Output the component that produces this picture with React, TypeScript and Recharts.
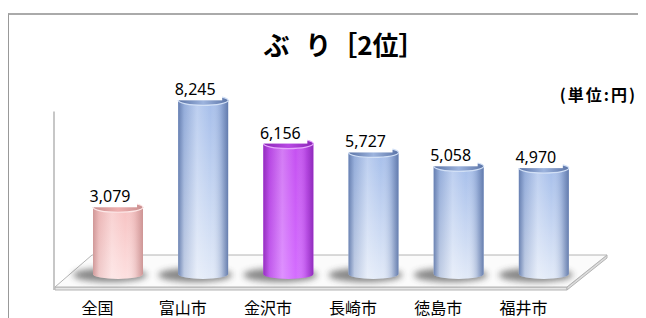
import { BarChart, Bar, XAxis, YAxis, ReferenceArea, LabelList } from 'recharts'

const categories = ['全国', '富山市', '金沢市', '長崎市', '徳島市', '福井市']
const prices = [3079, 8245, 6156, 5727, 5058, 4970]
const title = 'ぶ り［2位］'
const unitLabel = '(単位:円)'
const nationalName = '全国'
const highlightCity = '金沢市'

const data = categories.map((name, i) => ({ name, value: prices[i] }))

// wall of the 3d box reaches a bit below the tallest bar
const wallTop = 7700

const palette: Record<string, any> = {
	blue: { top: '#a4bdea', bottom: '#e2eaf8', edge: '#5a73a6', rim: '#d2e0f6', face: '#9db4de' },
	pink: { top: '#f6c0c0', bottom: '#fde0e0', edge: '#c98f8f', rim: '#fde8e8', face: '#eeb0b0' },
	purple: { top: '#c44ff0', bottom: '#d46dff', edge: '#8a26b6', rim: '#e8a8ff', face: '#b848e4' },
}

function colorOf(name: string) {
	if (name === nationalName) return 'pink'
	if (name === highlightCity) return 'purple'
	return 'blue'
}

function Cylinder(props: any) {
	const { x, y, width, height, payload, index } = props
	if (width == null || height == null) return null
	const c = palette[colorOf(payload.name)]
	const cx = x + width / 2
	const rx = width / 2
	const ry = 5
	const top = y
	const bottom = y + height + 3
	const id = `cyl-${index}`
	const body = `M${x},${top} L${x},${bottom} A${rx},${ry} 0 0 0 ${x + width},${bottom} L${x + width},${top} A${rx},${ry} 0 0 0 ${x},${top} Z`
	return (
		<g>
			<defs>
				<linearGradient id={`${id}-v`} x1="0" y1="0" x2="0" y2="1">
					<stop offset="0" stopColor={c.top} />
					<stop offset="1" stopColor={c.bottom} />
				</linearGradient>
				<linearGradient id={`${id}-h`} x1="0" y1="0" x2="1" y2="0">
					<stop offset="0" stopColor={c.edge} stopOpacity={0.85} />
					<stop offset="0.12" stopColor={c.edge} stopOpacity={0.25} />
					<stop offset="0.38" stopColor="#ffffff" stopOpacity={0.25} />
					<stop offset="0.65" stopColor="#ffffff" stopOpacity={0} />
					<stop offset="0.86" stopColor={c.edge} stopOpacity={0.3} />
					<stop offset="1" stopColor={c.edge} stopOpacity={0.9} />
				</linearGradient>
				<linearGradient id={`${id}-t`} x1="0" y1="0" x2="1" y2="0">
					<stop offset="0" stopColor={c.edge} />
					<stop offset="0.5" stopColor={c.face} />
					<stop offset="1" stopColor={c.edge} />
				</linearGradient>
				<filter id={`${id}-b`} x="-50%" y="-100%" width="200%" height="300%">
					<feGaussianBlur stdDeviation="3" />
				</filter>
			</defs>
			<ellipse cx={cx - 8} cy={bottom + 1} rx={rx + 12} ry={7} fill="#3a3a3a" opacity={0.6} filter={`url(#${id}-b)`} />
			<path d={body} fill={`url(#${id}-v)`} />
			<path d={body} fill={`url(#${id}-h)`} />
			<ellipse cx={cx} cy={top} rx={rx} ry={ry} fill={`url(#${id}-t)`} stroke={c.rim} strokeWidth={1.2} />
		</g>
	)
}

function ValueLabel(props: any) {
	const { x, y, width, value } = props
	const cx = x + width / 2 - 8
	return (
		<g>
			<rect x={cx - 26} y={y - 21} width={53} height={21} fill="#ffffff" />
			<text x={cx} y={y - 11} textAnchor="middle" dominantBaseline="central" fontSize={16} fontFamily="'Noto Sans', sans-serif" fill="#000">
				{Number(value).toLocaleString('en-US')}
			</text>
		</g>
	)
}

function CategoryTick(props: any) {
	const { x, y, payload } = props
	return (
		<text x={x - 20} y={y} textAnchor="middle" dominantBaseline="central" fontSize={16} fontFamily="'Noto Sans CJK JP', sans-serif" fill="#000">
			{payload.value}
		</text>
	)
}

function Floor(props: any) {
	const { x, y, width, height } = props
	const L = x
	const R = x + width
	const z = y + height
	const back = z - 16
	const front = z + 16
	return (
		<g>
			<polygon points={`${L - 20},${front} ${R - 19},${front} ${R - 19},${front + 3} ${L - 20},${front + 3}`} fill="#e6e6e6" stroke="#b4b4b4" strokeWidth={1} />
			<polygon points={`${R - 19},${front} ${R + 21},${back} ${R + 21},${back + 3} ${R - 19},${front + 3}`} fill="#dcdcdc" stroke="#b4b4b4" strokeWidth={1} />
			<polygon points={`${L + 17},${back} ${R + 21},${back} ${R - 19},${front} ${L - 20},${front}`} fill="#fbfbfb" stroke="#b4b4b4" strokeWidth={1} />
			<line x1={L - 21} y1={y} x2={L - 21} y2={front + 3} stroke="#b4b4b4" strokeWidth={1.5} />
		</g>
	)
}

export default function App() {
	return (
		<div style={{ position: 'relative', width: 638, height: 310 }}>
			<div
				style={{
					position: 'absolute',
					left: 0,
					top: 5,
					width: 637,
					height: 320,
					borderLeft: '1px solid #999',
					borderTop: '2px solid #aaa',
				}}
			/>
			<div style={{ position: 'absolute', left: 17, width: 638, top: 22, textAlign: 'center', fontFamily: "'Noto Sans CJK JP', sans-serif", fontWeight: 700, fontSize: 26, lineHeight: '28px', wordSpacing: 10 }}>
				{title}
			</div>
			<div style={{ position: 'absolute', right: 9, top: 77, fontFamily: "'Noto Sans CJK JP', sans-serif", fontWeight: 700, fontSize: 16, lineHeight: '18px', letterSpacing: 2 }}>
				{unitLabel}
			</div>
			<div style={{ position: 'absolute', left: 0, top: 0 }}>
				<BarChart width={638} height={320} data={data} margin={{ top: 56, right: 60, bottom: 27, left: 67 }}>
					<YAxis hide domain={[0, 10000]} />
					<XAxis dataKey="name" axisLine={false} tickLine={false} tickSize={0} tickMargin={36} height={30} interval={0} tick={<CategoryTick />} />
					<ReferenceArea y1={0} y2={wallTop} shape={<Floor />} />
					<Bar dataKey="value" barSize={50} isAnimationActive={false} shape={<Cylinder />}>
						<LabelList dataKey="value" content={<ValueLabel />} />
					</Bar>
				</BarChart>
			</div>
		</div>
	)
}
